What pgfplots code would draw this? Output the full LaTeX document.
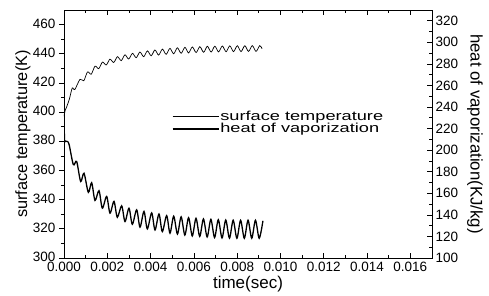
\documentclass[border=0pt]{standalone}
\usepackage{fontspec}
\setmainfont{Liberation Sans}
\usepackage{graphicx}
\usepackage{pgfplots}
\usepackage{pgfplotstable}
\pgfplotsset{compat=1.18}

\pgfplotstableread{
t T
0 397
0.00005 401
0.00012 403.5
0.00025 409
0.00038 416.5
0.0005 415.5
0.00074 422.5
0.000913 421.5
0.001086 427.5
0.001259 426.0
0.001432 431.5
0.001605 429.8
0.001778 434.3
0.001951 432.3
0.002124 436.3
0.002297 434.0
0.00247 438.0
0.002643 435.3
0.002816 439.3
0.002989 436.4
0.003162 440.3
0.003335 437.3
0.003508 441.2
0.003681 438.0
0.003854 442.0
0.004027 438.6
0.0042 442.6
0.004373 439.1
0.004546 443.2
0.004719 439.6
0.004892 443.7
0.005065 440.0
0.005238 444.1
0.005411 440.3
0.005584 444.4
0.005757 440.6
0.00593 444.7
0.006103 440.8
0.006276 444.9
0.006449 441.0
0.006622 445.1
0.006795 441.2
0.006968 445.2
0.007141 441.3
0.007314 445.3
0.007487 441.4
0.00766 445.4
0.007833 441.5
0.008006 445.5
0.008179 441.5
0.008352 445.5
0.008525 441.6
0.008698 445.6
0.008871 441.6
0.009044 445.6
0.00915 443.5
}\temptable

\pgfplotstableread{
t H
0 252
0.00002 211
0.00006 208.5
0.00016 208
0.00024 205
0.000431 186.6
0.000585 189.5
0.000770 171.0
0.000924 178.6
0.001124 160.9
0.001278 169.8
0.001432 153.4
0.001617 162.4
0.001771 146.2
0.001971 157.1
0.002125 141.6
0.002309 152.5
0.002463 137.8
0.002664 148.4
0.002818 133.8
0.003002 146.2
0.003156 131.3
0.003357 144.7
0.003511 128.6
0.003695 143.2
0.003849 127.0
0.004050 141.8
0.004204 126.0
0.004388 140.8
0.004542 124.5
0.004742 139.3
0.004896 123.0
0.005068 138.8
0.005240 122.2
0.005411 138.2
0.005583 121.3
0.005755 137.4
0.005926 120.5
0.006098 136.8
0.006270 120.0
0.006441 136.2
0.006613 119.5
0.006785 135.8
0.006956 119.0
0.007128 135.5
0.007300 118.6
0.007472 135.2
0.007643 118.4
0.007815 135.0
0.007987 118.3
0.008158 135.0
0.008330 118.3
0.008502 135.0
0.008673 118.3
0.008845 135.0
0.009017 118.3
0.00919 134.5
}\heattable

\begin{document}
\begin{tikzpicture}
\pgfplotsset{
  common/.style={
    width=368pt, height=248pt, scale only axis,
    xmin=0, xmax=0.017,
    axis line style={line width=0.9pt},
    major tick length=5pt, minor tick length=3pt,
    every tick/.style={black, line width=0.7pt},
    tick label style={font=\fontsize{13.5}{14}\selectfont},
    /pgf/number format/assume math mode=true,
    scaled x ticks=false, scaled y ticks=false,
  }
}
\begin{axis}[common,
  name=ax,
  ymin=300, ymax=470,
  xtick={0,0.002,0.004,0.006,0.008,0.010,0.012,0.014,0.016},
  minor x tick num=1,
  ytick={300,320,...,460},
  minor y tick num=1,
  xtick pos=both, ytick pos=left,
  xtick align=inside, ytick align=outside,
  xticklabel style={yshift=-1pt, /pgf/number format/.cd, fixed, fixed zerofill, precision=3},
  yticklabel style={yshift=1pt},
  xlabel={time(sec)},
  xlabel style={font=\fontsize{17}{18}\selectfont, at={(axis description cs:0.5,-0.105)}, anchor=center},
  ylabel={surface temperature(K)},
  every axis y label/.style={at={(axis description cs:-0.1114,0.5)}, rotate=90, anchor=center, font=\fontsize{16.3}{17}\selectfont},
]
\addplot[black, line width=0.7pt, smooth, tension=0.5] table[x=t, y=T] {\temptable};
\end{axis}
\begin{axis}[common,
  ymin=100, ymax=330,
  axis x line=none,
  axis y line*=right,
  ytick={100,120,...,320},
  minor y tick num=1,
  ytick align=inside,
  ylabel={heat of vaporization(KJ/kg)},
  every axis y label/.style={at={(axis description cs:1.117,0.5)}, rotate=-90, anchor=center, font=\fontsize{16.8}{17}\selectfont},
  legend style={draw=none, fill=none, at={(axis description cs:0.293,0.597)}, anchor=north west, inner sep=0pt, row sep=-0.5pt,
    font=\fontsize{13}{13}\selectfont, nodes={inner sep=1pt}},
  legend cell align=left,
  /tikz/every even column/.append style={column sep=4pt},
  legend image code/.code={\draw[#1] (0pt,0pt) -- (46pt,0pt);},
]
\addlegendimage{black, line width=0.7pt}
\addlegendentry{\scalebox{1.4}[1]{surface temperature}}
\addplot[black, line width=1.3pt, smooth, tension=0.5] table[x=t, y=H] {\heattable};
\addlegendentry{\scalebox{1.4}[1]{heat of vaporization}}
\end{axis}
\path ([xshift=-64pt,yshift=-36pt]ax.south west) rectangle ([xshift=57pt,yshift=10pt]ax.north east);
\end{tikzpicture}
\end{document}
